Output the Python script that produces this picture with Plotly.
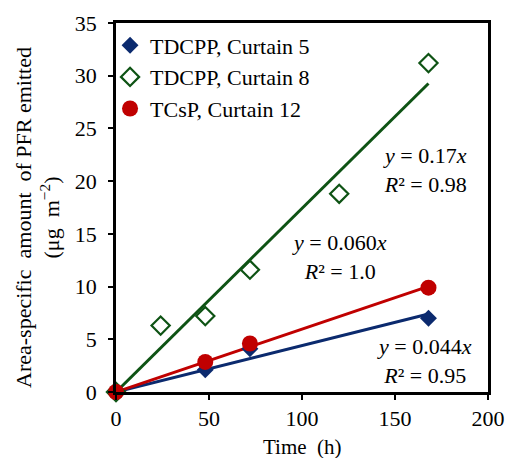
import plotly.graph_objects as go

# Data
x_c5 = [0, 48, 72, 168]
y_c5 = [0, 2.1, 4.1, 7.0]
x_c8 = [0, 24, 48, 72, 120, 168]
y_c8 = [0, 6.3, 7.2, 11.6, 18.8, 31.2]
x_c12 = [0, 48, 72, 168]
y_c12 = [0, 2.85, 4.6, 9.9]

names = ["TDCPP, Curtain 5", "TDCPP, Curtain 8", "TCsP, Curtain 12"]
eq_texts = ["<i>y</i> = 0.044<i>x</i><br><i>R</i>² = 0.95",
            "<i>y</i> = 0.17<i>x</i><br><i>R</i>² = 0.98",
            "<i>y</i> = 0.060<i>x</i><br><i>R</i>² = 1.0"]
x_ticks = [0, 50, 100, 150, 200]
y_ticks = [0, 5, 10, 15, 20, 25, 30, 35]

BLUE = "#0B2A6E"
GREEN = "#0E5314"
RED = "#C00000"
FONT = "Liberation Serif, Times New Roman, serif"


def slope(xs, ys):
    return sum(a * b for a, b in zip(xs, ys)) / sum(a * a for a in xs)


fig = go.Figure()

# Trend lines through origin (least squares), drawn first
for xs, ys, col in [(x_c8, y_c8, GREEN), (x_c5, y_c5, BLUE), (x_c12, y_c12, RED)]:
    k = slope(xs, ys)
    xe = [0, max(xs)]
    fig.add_trace(go.Scatter(x=xe, y=[k * v for v in xe], mode="lines",
                             line=dict(color=col, width=3), showlegend=False,
                             hoverinfo="skip", cliponaxis=False))

fig.add_trace(go.Scatter(x=x_c5, y=y_c5, mode="markers", name=names[0],
                         marker=dict(symbol="diamond", size=13, color=BLUE),
                         cliponaxis=False))
fig.add_trace(go.Scatter(x=x_c8, y=y_c8, mode="markers", name=names[1],
                         marker=dict(symbol="diamond-open", size=14, color=GREEN,
                                     line=dict(width=2.2, color=GREEN)),
                         cliponaxis=False))
fig.add_trace(go.Scatter(x=x_c12, y=y_c12, mode="markers", name=names[2],
                         marker=dict(symbol="circle", size=16, color=RED),
                         cliponaxis=False))

EQF = dict(family=FONT, size=22, color="black")
# Equation labels
fig.add_annotation(x=166, y=2.9, text=eq_texts[0], showarrow=False, xanchor="center",
                   yanchor="middle", align="center", font=EQF)
fig.add_annotation(x=166, y=21.1, text=eq_texts[1], showarrow=False, xanchor="center",
                   yanchor="middle", align="center", font=EQF)
fig.add_annotation(x=120, y=12.8, text=eq_texts[2], showarrow=False, xanchor="center",
                   yanchor="middle", align="center", font=EQF)

# Y axis title (two lines)
fig.add_annotation(x=-0.21, y=0.474, xref="paper", yref="paper",
                   text="Area-specific  amount  of PFR emitted<br>(μg  m<sup>−2</sup>)",
                   textangle=-90, showarrow=False, xanchor="center", yanchor="middle",
                   align="center", font=dict(family=FONT, size=22, color="black"))
# X axis title
fig.add_annotation(x=0.5, y=0, xref="paper", yref="paper", yshift=-55,
                   text="Time  (h)", showarrow=False, xanchor="center", yanchor="middle",
                   font=dict(family=FONT, size=21, color="black"))

axis_common = dict(showline=True, linecolor="black", linewidth=2.5, mirror=True,
                   ticks="outside", ticklen=5, tickwidth=2, tickcolor="black",
                   showgrid=False, zeroline=False, automargin=False,
                   tickfont=dict(family=FONT, size=22, color="black"))

fig.update_xaxes(range=[0, 200], tickvals=x_ticks, **axis_common)
fig.update_yaxes(range=[0, 35], tickvals=y_ticks, ticklabelstandoff=7, **axis_common)

fig.update_layout(
    width=507, height=458,
    margin=dict(l=116, r=19, t=23, b=66, autoexpand=False),
    paper_bgcolor="white", plot_bgcolor="white",
    font=dict(family=FONT, size=22, color="black"),
    legend=dict(x=-0.016, y=0.996, xanchor="left", yanchor="top",
                bgcolor="rgba(0,0,0,0)", font=dict(family=FONT, size=22, color="black"),
                itemwidth=30, tracegroupgap=0),
)

# Remove the default page margin so the 507x458 figure fills the window exactly
fig.write_html("out.html",
               config={"displayModeBar": False},
               post_script="document.body.style.margin='0';"
                           "document.body.style.overflow='hidden';")
